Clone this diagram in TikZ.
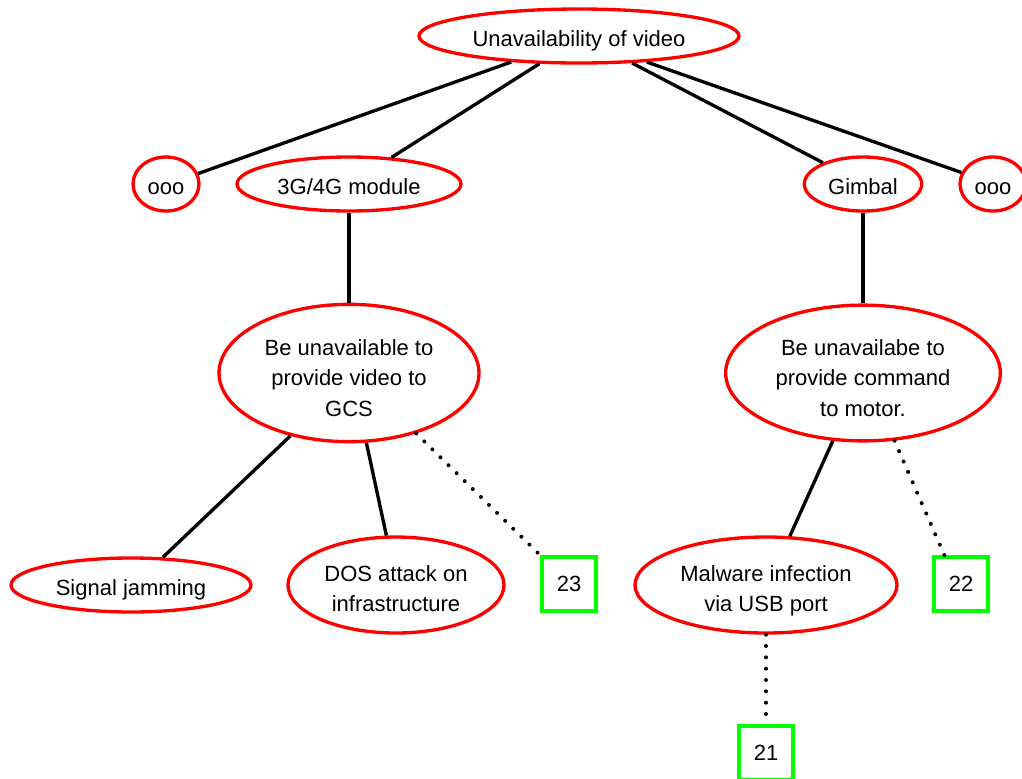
\documentclass[tikz,border=0pt]{standalone}
\usepackage{fontspec}
\setmainfont{Liberation Sans}
\usetikzlibrary{shapes.geometric}
\definecolor{TreeRed}{HTML}{FF0000}
\definecolor{TreeGreen}{HTML}{00FF00}
\tikzset{
    % Text for all nodes
    every node/.style={font=\fontsize{16.5}{22.8}\selectfont},
    % Attack goal style
    goal/.style={
        ellipse,
        draw=TreeRed,
        line width=2.5pt,
        inner sep=0pt,
        minimum height=40.5pt,
        align=center,
        execute at begin node={\rule{0pt}{19.5pt}},
        execute at end node={\rule[-3.5pt]{0pt}{0pt}}
    },
    % Text box height for goals of two or three lines
    twolines/.style={text height=43.3pt},
    threelines/.style={text height=68.5pt},
    % Reference box style
    refbox/.style={
        rectangle,
        draw=TreeGreen,
        line width=2.7pt,
        inner sep=0pt,
        minimum size=40.5pt
    },
    % Tree link
    link/.style={
        draw=black,
        line width=2.5pt
    },
    % Dotted link to a reference
    reflink/.style={
        draw=black,
        line width=3pt,
        line cap=round,
        dash pattern=on 0pt off 8.5pt
    }
}
\begin{document}
\begin{tikzpicture}[x=0.75pt, y=-0.75pt]
    \useasboundingbox (0,0) rectangle (1022,779);

    \node (top) [goal, minimum width=240pt] at (579,36) {Unavailability of video};
    \node (oooL) [goal, minimum width=49.5pt] at (166,184) {ooo};
    \node (module) [goal, minimum width=168pt] at (349,184) {3G/4G module};
    \node (gimbal) [goal, minimum width=88pt] at (863,184) {Gimbal};
    \node (oooR) [goal, minimum width=49.5pt] at (993,184) {ooo};

    \node (videoGoal) [goal, threelines, minimum width=195pt, minimum height=103pt] at (349,373) {Be unavailable to\\provide video to\\GCS};
    \node (motorGoal) [goal, threelines, minimum width=206pt, minimum height=101pt] at (863,373) {Be unavailabe to\\provide command\\to motor.};

    \node (jamming) [goal, minimum width=180pt] at (131,585) {Signal jamming};
    \node (dos) [goal, twolines, minimum width=162pt, minimum height=72pt] at (396,585) {DOS attack on\\infrastructure};
    \node (ref23) [refbox] at (569,584) {23};
    \node (malware) [goal, twolines, minimum width=196.5pt, minimum height=72pt] at (766,585) {Malware infection\\via USB port};
    \node (ref22) [refbox] at (961,584) {22};
    \node (ref21) [refbox] at (766,753) {21};

    % Top level
    \draw [link] (top.201) -- (oooL.18);
    \draw [link] (top.215) -- (module.32);
    \draw [link] (top.333) -- (gimbal.152);
    \draw [link] (top.339) -- (oooR.160);

    % Components
    \draw [link] (module.south) -- (videoGoal.north);
    \draw [link] (gimbal.south) -- (motorGoal.north);

    % Attacks
    \draw [link] (videoGoal.227) -- (jamming.41);
    \draw [link] (videoGoal.284) -- (dos.101);
    \draw [reflink] (videoGoal.318) -- (ref23.north west);
    \draw [link] (motorGoal.246) -- (malware.64);
    \draw [reflink] (motorGoal.295) -- (ref22.120);
    \draw [reflink] (malware.south) -- (ref21.north);
\end{tikzpicture}
\end{document}
